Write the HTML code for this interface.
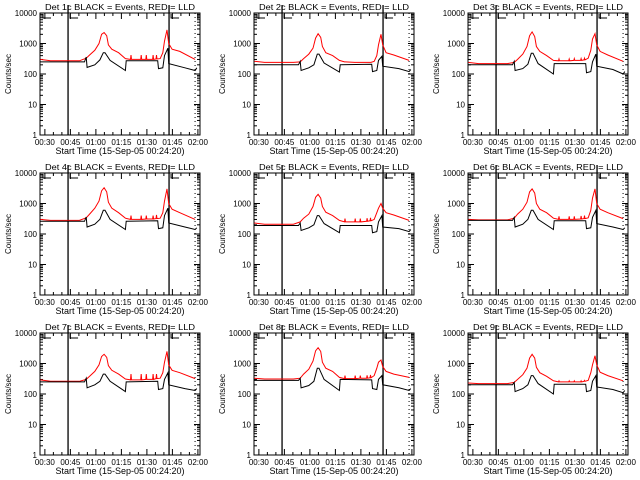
<!DOCTYPE html>
<html><head><meta charset="utf-8"><style>
body{margin:0;background:#fff;}
svg{display:block;font-family:"Liberation Sans",sans-serif;}
</style></head><body>
<svg id="chart" width="640" height="480" viewBox="0 0 640 480"></svg>
<script>
const panelTitles = ["Det 1c","Det 2c","Det 3c","Det 4c","Det 5c","Det 6c","Det 7c","Det 8c","Det 9c"];
const timesBlack = [3,29,30,30.5,35,38,40,41,44,53,53.5,72,72.5,75,76,78,78.5,88,94,95];
const timesRed = [3,9,26,30,32,35,37.5,39,40.5,42,43,45,49,53,56,56.3,56.6,62,62.3,62.6,65,65.3,65.6,69,69.3,69.6,71,71.3,71.6,73.5,75,76,77.5,78.5,80.5,85,94];
const black1 = [250,250,360,165,200,290,500,500,280,130,270,270,150,160,400,700,220,160,130,160];
const black2 = [200,200,260,130,160,200,450,450,230,115,200,210,120,130,280,380,180,150,120,140];
const black3 = [200,200,260,130,150,210,480,480,220,100,220,220,110,120,250,450,180,140,100,120];
const black4 = [260,260,360,170,210,300,600,600,300,140,260,270,150,160,400,700,230,170,140,160];
const black5 = [190,190,230,130,160,200,400,400,220,110,190,190,110,120,250,400,170,150,120,140];
const black6 = [280,280,350,170,210,300,600,600,300,140,270,270,150,160,350,600,220,170,140,160];
const black7 = [250,250,330,160,200,260,450,450,260,120,250,260,140,150,300,500,200,150,130,150];
const black8 = [280,280,330,160,190,260,700,700,300,130,300,290,150,140,300,400,200,160,130,150];
const black9 = [200,200,240,120,150,200,400,400,220,100,210,210,120,130,260,400,170,140,110,130];
const red1 = [300,270,270,330,420,600,1000,2000,2300,1800,900,650,500,320,300,420,300,300,420,300,300,420,300,300,420,300,310,420,310,320,500,1200,2800,1000,650,550,300];
const red2 = [260,240,240,250,320,450,700,1500,2100,1600,800,500,400,280,250,250,250,240,240,240,240,240,240,240,240,240,240,240,240,260,400,900,2000,900,500,420,280];
const red3 = [240,220,220,240,300,450,800,1800,2400,1700,800,550,400,280,270,310,270,270,310,270,280,320,280,280,320,280,290,330,290,330,600,1400,2100,900,550,420,260];
const red4 = [300,280,280,340,450,700,1200,2600,3300,2400,1100,700,500,330,300,400,300,300,400,300,310,400,310,310,400,310,320,420,320,330,500,1200,3000,1000,650,500,300];
const red5 = [230,210,210,250,330,450,800,1600,2000,1500,800,520,400,280,250,320,250,250,320,250,250,320,250,260,330,260,270,340,270,300,500,700,1000,700,500,420,280];
const red6 = [300,290,290,330,450,650,1100,2400,3000,2200,1000,650,500,330,300,380,300,300,380,300,300,380,300,310,390,310,320,400,320,340,600,1500,3000,1000,650,500,320];
const red7 = [290,260,260,300,380,550,900,1700,2000,1600,850,600,450,310,290,450,290,290,450,290,300,450,300,300,450,300,320,450,320,330,500,1100,2500,900,600,500,320];
const red8 = [330,310,310,330,450,650,1200,2600,3300,2500,1100,700,550,350,320,400,320,320,400,320,330,400,330,330,410,330,340,420,340,400,700,1100,1300,800,550,450,350];
const red9 = [230,220,220,240,300,430,700,1500,2000,1500,750,500,380,270,250,270,250,250,270,250,250,270,250,250,270,250,260,280,260,280,500,900,1800,900,520,400,270];
const yTickLabels = ["1","10","100","1000","10000"];
const xTickLabels = ["00:30","00:45","01:00","01:15","01:30","01:45","02:00"];
const xTickTimes = [5.67,20.67,35.67,50.67,65.67,80.67,95.67];
const markerSolid = [19.3,78.7];
const markerDotted = [94];

const blacks=[black1,black2,black3,black4,black5,black6,black7,black8,black9];
const reds=[red1,red2,red3,red4,red5,red6,red7,red8,red9];
const NS="http://www.w3.org/2000/svg";
const svg=document.getElementById('chart');
function mk(tag,attrs,parent){const e=document.createElementNS(NS,tag);for(const k in attrs)e.setAttribute(k,attrs[k]);(parent||svg).appendChild(e);return e;}
const colL=[40,254,468], rowT=[13,173,333], W=160, H=122;
const T0=2.8, T1=96.9;
for(let p=0;p<9;p++){
  const L=colL[p%3], T=rowT[Math.floor(p/3)];
  const g=mk('g',{});
  
  
  const xs=t=>L+(t-T0)/(T1-T0)*W;
  const ys=v=>T+H-(Math.log10(v))/4*H;
  const tt=mk('text',{x:L+W/2,y:T-3,'text-anchor':'middle','font-size':'8.5',textLength:'150',lengthAdjust:'spacingAndGlyphs'},g);
  tt.textContent=panelTitles[p]+" BLACK = Events, RED = LLD";
  
  
  const box=mk('rect',{x:L,y:T,width:W,height:H,fill:'none',stroke:'#000','stroke-width':1},g);
  
  
  for(let d=0;d<=4;d++){
    const y=ys(Math.pow(10,d));
    mk('line',{x1:L,x2:L+6,y1:y,y2:y,stroke:'#000'},g);
    mk('line',{x1:L+W-6,x2:L+W,y1:y,y2:y,stroke:'#000'},g);
    const lb=mk('text',{x:L-3,y:y+3,'text-anchor':'end','font-size':'8'},g);
    lb.textContent=yTickLabels[d];
    
    
    if(d<4)for(let m=2;m<=9;m++){const ym=ys(m*Math.pow(10,d));
      mk('line',{x1:L,x2:L+3,y1:ym,y2:ym,stroke:'#000'},g);
      mk('line',{x1:L+W-3,x2:L+W,y1:ym,y2:ym,stroke:'#000'},g);}
  }
  xTickTimes.forEach((t,i)=>{
    const x=xs(t);
    if(x<=L+W+0.5){mk('line',{x1:x,x2:x,y1:T+H,y2:T+H-6,stroke:'#000'},g);
    mk('line',{x1:x,x2:x,y1:T,y2:T+6,stroke:'#000'},g);}
    const lb=mk('text',{x:Math.min(x,L+W-2),y:T+H+10,'text-anchor':'middle','font-size':'8'},g);
    lb.textContent=xTickLabels[i];
    
    
    for(let k=1;k<3;k++){const tm=t+5*k;const xm=xs(tm);if(xm<L+W){
      mk('line',{x1:xm,x2:xm,y1:T+H,y2:T+H-3,stroke:'#000'},g);
      mk('line',{x1:xm,x2:xm,y1:T,y2:T+3,stroke:'#000'},g);}}
  });
  const xt=mk('text',{x:L+W/2,y:T+H+19,'text-anchor':'middle','font-size':'9'},g);
  xt.textContent="Start Time (15-Sep-05 00:24:20)";
  
  
  const yt=mk('text',{x:0,y:0,'text-anchor':'middle','font-size':'8',transform:`translate(${L-29},${T+H/2}) rotate(-90)`},g);
  yt.textContent="Counts/sec";
  
  
  markerSolid.forEach(t=>{const x=xs(t);
    const ln=mk('line',{x1:x,x2:x,y1:T-8,y2:T+H,stroke:'#000','stroke-width':1.3},g);
    
    
    mk('polyline',{points:`${x+2},${T+1} ${x+2},${T+5} ${x+10},${T+5}`,fill:'none',stroke:'#000'},g);});
  mk('polyline',{points:`${L+3},${T+1} ${L+3},${T+5} ${L+11},${T+5}`,fill:'none',stroke:'#000'},g);
  markerDotted.forEach(t=>{const x=xs(t);
    const ln=mk('line',{x1:x,x2:x,y1:T,y2:T+H,stroke:'#000','stroke-dasharray':'1,3'},g);
    
    });
  const rp=timesRed.map((t,i)=>xs(t).toFixed(1)+','+ys(reds[p][i]).toFixed(1)).join(' ');
  const r=mk('polyline',{points:rp,fill:'none',stroke:'#f00','stroke-width':1},g);
  
  
  const bp=timesBlack.map((t,i)=>xs(t).toFixed(1)+','+ys(blacks[p][i]).toFixed(1)).join(' ');
  const b=mk('polyline',{points:bp,fill:'none',stroke:'#000','stroke-width':1},g);
  
  
}
</script>
</body></html>
